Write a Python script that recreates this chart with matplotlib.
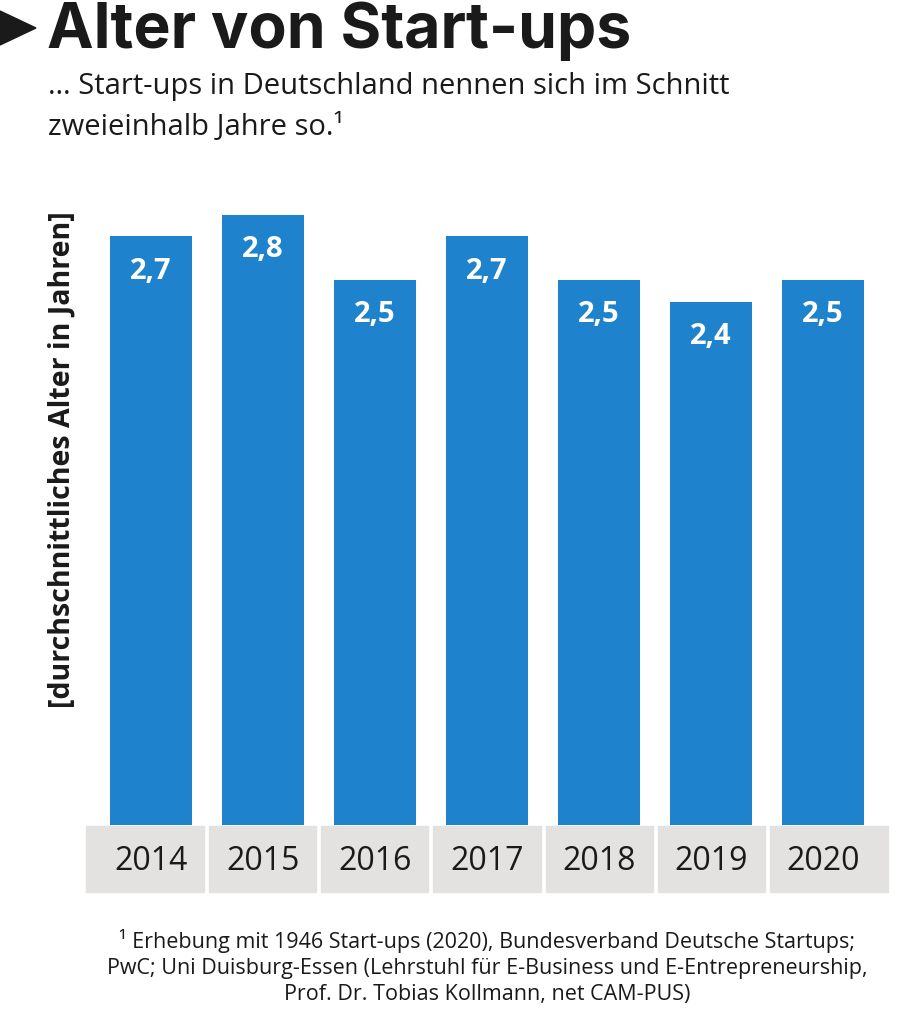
import matplotlib
matplotlib.use("Agg")
import matplotlib.pyplot as plt
from matplotlib.patches import Rectangle, Polygon

years = ["2014", "2015", "2016", "2017", "2018", "2019", "2020"]
values = [2.7, 2.8, 2.5, 2.7, 2.5, 2.4, 2.5]
value_labels = ["2,7", "2,8", "2,5", "2,7", "2,5", "2,4", "2,5"]

title = "Alter von Start-ups"
subtitle = "… Start-ups in Deutschland nennen sich im Schnitt\nzweieinhalb Jahre so.¹"
ylabel = "[durchschnittliches Alter in Jahren]"
footnote = ("¹ Erhebung mit 1946 Start-ups (2020), Bundesverband Deutsche Startups;\n"
            "PwC; Uni Duisburg-Essen (Lehrstuhl für E-Business und E-Entrepreneurship,\n"
            "Prof. Dr. Tobias Kollmann, net CAM-PUS)")

BLUE = "#1f82cc"
GRAY = "#e3e2e1"
DARK = "#1a1a1a"
W, H = 901, 1024

fig = plt.figure(figsize=(W / 100, H / 100), dpi=100)
fig.patch.set_facecolor("white")

ax = fig.add_axes([86 / W, 1 - 892 / H, 802 / W, (892 - 200) / H])
ax.set_xlim(-0.58, 6.58)
ax.set_ylim(-0.307, 2.867)
ax.axis("off")

x = list(range(len(years)))
ax.bar(x, values, width=0.732, color=BLUE, zorder=2)
for i, (v, lab) in enumerate(zip(values, value_labels)):
    ax.text(i, v - 0.16, lab, ha="center", va="center", color="white",
            fontsize=21, fontweight="bold", family="Open Sans", zorder=3)

for i, yr in enumerate(years):
    left = i - 0.4777
    right = i + 0.4777
    if i == 0:
        left = -0.58
    if i == len(years) - 1:
        right = 6.58
    ax.add_patch(Rectangle((left, -0.307), right - left, 0.302, color=GRAY,
                           zorder=1, clip_on=False))
    ax.text(i, -0.165, yr, ha="center", va="center", color=DARK,
            fontsize=23, family="Open Sans", zorder=3)

# title arrow
fig.patches.append(Polygon([[0 / W, 1 - 11 / H], [36 / W, 1 - 28 / H], [0 / W, 1 - 45 / H]],
                           closed=True, transform=fig.transFigure, color=DARK))
fig.text(47 / W, 1 - 48 / H, title, ha="left", va="baseline", fontsize=45,
         fontweight="bold", family="Inter", color=DARK)
fig.text(48 / W, 1 - 72 / H, subtitle, ha="left", va="top", fontsize=21,
         family="Open Sans", color=DARK, linespacing=1.55)
fig.text(62 / W, 1 - 460 / H, ylabel, ha="center", va="center", rotation=90,
         fontsize=20.5, fontweight="bold", family="Open Sans", color=DARK)
fig.text(487 / W, 1 - 967 / H, footnote, ha="center", va="center", fontsize=15.5,
         family="Open Sans", color=DARK, linespacing=1.3)

fig.savefig("out.png", dpi=100)
